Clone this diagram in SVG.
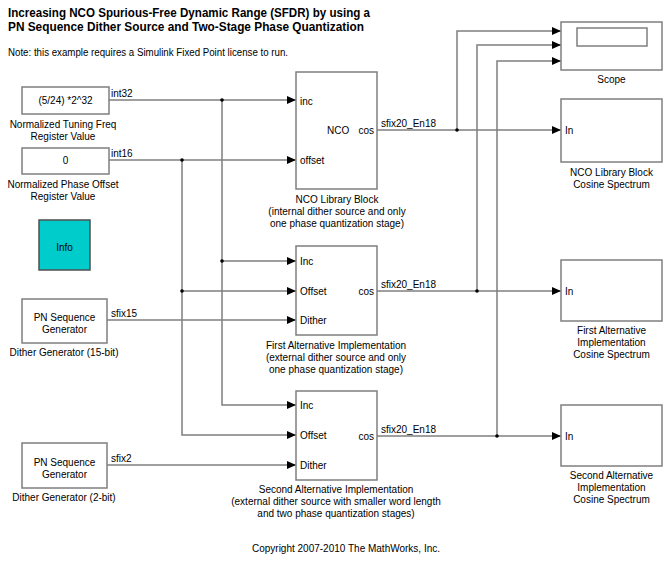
<svg xmlns="http://www.w3.org/2000/svg" width="670" height="561" viewBox="0 0 670 561">
<style>
text{font-family:"Liberation Sans",Arial,sans-serif;font-size:10px;fill:#000}
.t{font-weight:bold;font-size:12px}
.c{text-anchor:middle}
.e{text-anchor:end}
.blk{fill:#fff;stroke:#7f7f7f;stroke-width:1.5}
.w{fill:none;stroke:#7f7f7f;stroke-width:1.5}
.j{fill:#000}
</style>
<defs>
<marker id="a" markerUnits="userSpaceOnUse" markerWidth="9" markerHeight="8" refX="9" refY="4" orient="auto"><path d="M0,0L9,4L0,8z" fill="#000"/></marker>
</defs>
<rect width="670" height="561" fill="#fff"/>
<text class="t" x="8" y="17" textLength="362" lengthAdjust="spacingAndGlyphs">Increasing NCO Spurious-Free Dynamic Range (SFDR) by using a</text>
<text class="t" x="8" y="31" textLength="356" lengthAdjust="spacingAndGlyphs">PN Sequence Dither Source and Two-Stage Phase Quantization</text>
<text x="8" y="56" textLength="280" lengthAdjust="spacingAndGlyphs">Note: this example requires a Simulink Fixed Point license to run.</text>

<g id="connectors">
<path class="w" d="M109,100H296" marker-end="url(#a)"/>
<path class="w" d="M109,160H296" marker-end="url(#a)"/>
<path class="w" d="M222,100V261H296" marker-end="url(#a)"/>
<path class="w" d="M222,261V405H296" marker-end="url(#a)"/>
<path class="w" d="M182,160V291H296" marker-end="url(#a)"/>
<path class="w" d="M182,291V435H296" marker-end="url(#a)"/>
<path class="w" d="M107,320H296" marker-end="url(#a)"/>
<path class="w" d="M107,465H296" marker-end="url(#a)"/>
<path class="w" d="M377,130H561" marker-end="url(#a)"/>
<path class="w" d="M377,291H561" marker-end="url(#a)"/>
<path class="w" d="M377,436H561" marker-end="url(#a)"/>
<path class="w" d="M457,130V31H561" marker-end="url(#a)"/>
<path class="w" d="M477,291V45H561" marker-end="url(#a)"/>
<path class="w" d="M497,436V61H561" marker-end="url(#a)"/>
<circle class="j" cx="222" cy="100" r="1.8"/>
<circle class="j" cx="182" cy="160" r="1.8"/>
<circle class="j" cx="222" cy="261" r="1.8"/>
<circle class="j" cx="182" cy="291" r="1.8"/>
<circle class="j" cx="457" cy="130" r="1.8"/>
<circle class="j" cx="477" cy="291" r="1.8"/>
<circle class="j" cx="497" cy="436" r="1.8"/>
<text x="111" y="97">int32</text>
<text x="111" y="157">int16</text>
<text x="111" y="317">sfix15</text>
<text x="111" y="462">sfix2</text>
<text x="381" y="127">sfix20_En18</text>
<text x="381" y="288">sfix20_En18</text>
<text x="381" y="433">sfix20_En18</text>
</g>

<g id="const1">
<rect class="blk" x="22" y="87" width="87" height="27"/>
<text class="c" x="65.5" y="104">(5/24) *2^32</text>
<text class="c" x="63" y="128">Normalized Tuning Freq</text>
<text class="c" x="63" y="140">Register Value</text>
</g>
<g id="const2">
<rect class="blk" x="22" y="148" width="87" height="26"/>
<text class="c" x="65.5" y="164">0</text>
<text class="c" x="63" y="188">Normalized Phase Offset</text>
<text class="c" x="63" y="200">Register Value</text>
</g>
<g id="info">
<rect x="39" y="220" width="51" height="50" fill="#00cccc" stroke="#4f4f4f" stroke-width="1.5"/>
<text class="c" x="64.5" y="251">Info</text>
</g>
<g id="pn1">
<rect class="blk" x="22" y="299" width="85" height="44"/>
<text class="c" x="64.5" y="321">PN Sequence</text>
<text class="c" x="64.5" y="333">Generator</text>
<text class="c" x="64" y="356">Dither Generator (15-bit)</text>
</g>
<g id="pn2">
<rect class="blk" x="22" y="443" width="85" height="45"/>
<text class="c" x="64.5" y="466">PN Sequence</text>
<text class="c" x="64.5" y="478">Generator</text>
<text class="c" x="64" y="501">Dither Generator (2-bit)</text>
</g>
<g id="nco">
<rect class="blk" x="296" y="72" width="81" height="117"/>
<text x="300" y="105">inc</text>
<text x="300" y="164">offset</text>
<text x="327" y="134">NCO</text>
<text class="e" x="374" y="134">cos</text>
<text class="c" x="337" y="203">NCO Library Block</text>
<text class="c" x="337" y="215">(internal dither source and only</text>
<text class="c" x="337" y="227">one phase quantization stage)</text>
</g>
<g id="alt1">
<rect class="blk" x="296" y="246" width="81" height="89"/>
<text x="300" y="265">Inc</text>
<text x="300" y="295">Offset</text>
<text x="300" y="324">Dither</text>
<text class="e" x="374" y="295">cos</text>
<text class="c" x="336" y="349">First Alternative Implementation</text>
<text class="c" x="336" y="361">(external dither source and only</text>
<text class="c" x="336" y="373">one phase quantization stage)</text>
</g>
<g id="alt2">
<rect class="blk" x="296" y="391" width="81" height="89"/>
<text x="300" y="409">Inc</text>
<text x="300" y="439">Offset</text>
<text x="300" y="469">Dither</text>
<text class="e" x="374" y="440">cos</text>
<text class="c" x="336" y="493">Second Alternative Implementation</text>
<text class="c" x="336" y="505">(external dither source with smaller word length</text>
<text class="c" x="336" y="517">and two phase quantization stages)</text>
</g>
<g id="scope">
<rect class="blk" x="561" y="22" width="101" height="48"/>
<rect class="blk" x="577" y="28" width="70" height="18"/>
<text class="c" x="611.5" y="83">Scope</text>
</g>
<g id="spec1">
<rect class="blk" x="561" y="99" width="101" height="63"/>
<text x="565" y="134">In</text>
<text class="c" x="611.5" y="176">NCO Library Block</text>
<text class="c" x="611.5" y="188">Cosine Spectrum</text>
</g>
<g id="spec2">
<rect class="blk" x="561" y="260" width="101" height="61"/>
<text x="565" y="295">In</text>
<text class="c" x="611.5" y="334">First Alternative</text>
<text class="c" x="611.5" y="346">Implementation</text>
<text class="c" x="611.5" y="358">Cosine Spectrum</text>
</g>
<g id="spec3">
<rect class="blk" x="561" y="405" width="101" height="61"/>
<text x="565" y="440">In</text>
<text class="c" x="611.5" y="479">Second Alternative</text>
<text class="c" x="611.5" y="491">Implementation</text>
<text class="c" x="611.5" y="503">Cosine Spectrum</text>
</g>
<text class="c" x="346" y="552">Copyright 2007-2010 The MathWorks, Inc.</text>
</svg>
